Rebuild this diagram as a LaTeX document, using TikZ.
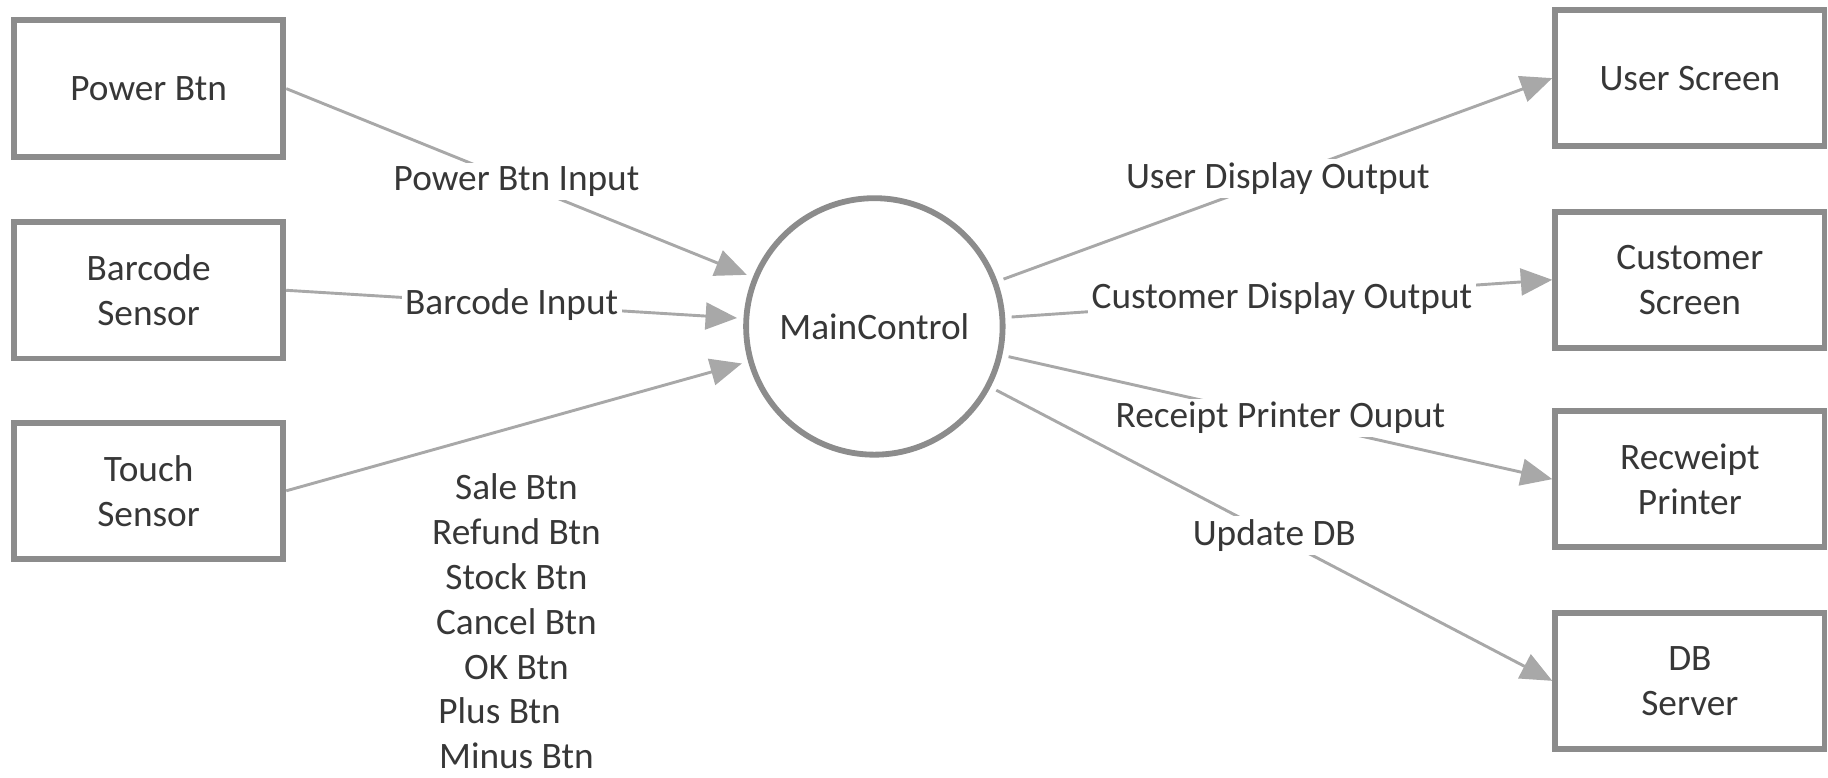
\documentclass[tikz,border=0pt]{standalone}
\usepackage{fontspec}
\setmainfont{Carlito}
\usetikzlibrary{arrows.meta}
\definecolor{boxgray}{RGB}{140,140,140}
\definecolor{linegray}{RGB}{168,168,168}
\definecolor{txt}{RGB}{55,55,55}
\begin{document}
\begin{tikzpicture}[x=1pt,y=-1pt,
  every node/.style={font=\fontsize{32}{38.5}\selectfont, text=txt},
  entity/.style={draw=boxgray, line width=5pt, minimum width=231pt, minimum height=117pt, align=center, inner sep=0pt},
  proc/.style={circle, draw=boxgray, line width=5pt, minimum size=220pt, inner sep=0pt, outer sep=8pt},
  flow/.style={draw=linegray, line width=2.5pt, -{Triangle[length=27pt,width=23pt]}},
  flowlabel/.style={fill=white, inner sep=3pt, midway}]
\useasboundingbox (0,0) rectangle (1568,667);
% inputs
\node[entity] (pb) at (127.5,76) {Power Btn};
\node[entity] (bs) at (127.5,249) {Barcode\\Sensor};
\node[entity] (ts) at (127.5,421) {Touch\\Sensor};
% process
\node[proc] (main) at (750,280) {MainControl};
% outputs
\node[entity] (us) at (1449.5,67) {User Screen};
\node[entity] (cs) at (1449.5,240) {Customer\\Screen};
\node[entity] (rp) at (1449.5,411) {Recweipt\\Printer};
\node[entity] (db) at (1449.5,584) {DB\\Server};
% flows
\draw[flow] (pb.east) -- (main) node[flowlabel] {Power Btn Input};
\draw[flow] (bs.east) -- (main) node[flowlabel] {Barcode Input};
\draw[flow] (ts.east) -- (main);
\draw[flow] (main) -- (us.west) node[flowlabel] {User Display Output};
\draw[flow] (main) -- (cs.west) node[flowlabel] {Customer Display Output};
\draw[flow] (main) -- (rp.west) node[flowlabel] {Receipt Printer Ouput};
\draw[flow] (main) -- (db.west) node[flowlabel] {Update DB};
% button list
\node[align=center] (btns) at (443,533) {Sale Btn\\Refund Btn\\Stock Btn\\Cancel Btn\\OK Btn\\\makebox[134pt][l]{Plus Btn}\\Minus Btn};
\end{tikzpicture}
\end{document}
